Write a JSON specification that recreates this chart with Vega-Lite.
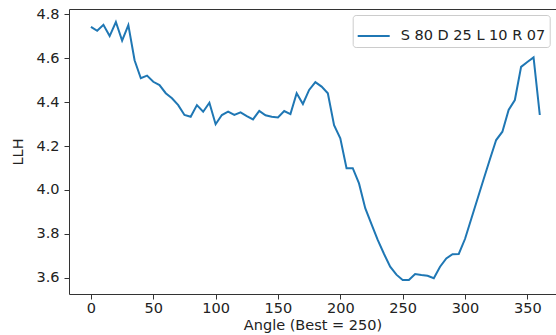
{
  "$schema": "https://vega.github.io/schema/vega-lite/v6.json",
  "width": 487,
  "height": 285,
  "autosize": {"type": "none"},
  "padding": {"left": 69, "top": 9, "right": 0, "bottom": 41},
  "background": "white",
  "config": {
    "view": {"stroke": null},
    "font": "DejaVu Sans",
    "axis": {
      "domainColor": "#333333",
      "tickColor": "#333333",
      "labelColor": "#222222",
      "titleColor": "#222222",
      "labelFontSize": 14.5,
      "titleFontSize": 14.5,
      "titleFontWeight": "normal",
      "labelFont": "DejaVu Sans",
      "titleFont": "DejaVu Sans",
      "grid": false,
      "tickSize": 5,
      "domainWidth": 1,
      "tickWidth": 1
    }
  },
  "data": {
    "values": [
      {"angle": 0, "llh": 4.742, "series": "S 80 D 25 L 10 R 07"},
      {"angle": 5, "llh": 4.724, "series": "S 80 D 25 L 10 R 07"},
      {"angle": 10, "llh": 4.751, "series": "S 80 D 25 L 10 R 07"},
      {"angle": 15, "llh": 4.700, "series": "S 80 D 25 L 10 R 07"},
      {"angle": 20, "llh": 4.764, "series": "S 80 D 25 L 10 R 07"},
      {"angle": 25, "llh": 4.679, "series": "S 80 D 25 L 10 R 07"},
      {"angle": 30, "llh": 4.750, "series": "S 80 D 25 L 10 R 07"},
      {"angle": 35, "llh": 4.590, "series": "S 80 D 25 L 10 R 07"},
      {"angle": 40, "llh": 4.508, "series": "S 80 D 25 L 10 R 07"},
      {"angle": 45, "llh": 4.520, "series": "S 80 D 25 L 10 R 07"},
      {"angle": 50, "llh": 4.492, "series": "S 80 D 25 L 10 R 07"},
      {"angle": 55, "llh": 4.477, "series": "S 80 D 25 L 10 R 07"},
      {"angle": 60, "llh": 4.440, "series": "S 80 D 25 L 10 R 07"},
      {"angle": 65, "llh": 4.417, "series": "S 80 D 25 L 10 R 07"},
      {"angle": 70, "llh": 4.386, "series": "S 80 D 25 L 10 R 07"},
      {"angle": 75, "llh": 4.341, "series": "S 80 D 25 L 10 R 07"},
      {"angle": 80, "llh": 4.333, "series": "S 80 D 25 L 10 R 07"},
      {"angle": 85, "llh": 4.386, "series": "S 80 D 25 L 10 R 07"},
      {"angle": 90, "llh": 4.356, "series": "S 80 D 25 L 10 R 07"},
      {"angle": 95, "llh": 4.397, "series": "S 80 D 25 L 10 R 07"},
      {"angle": 100, "llh": 4.299, "series": "S 80 D 25 L 10 R 07"},
      {"angle": 105, "llh": 4.341, "series": "S 80 D 25 L 10 R 07"},
      {"angle": 110, "llh": 4.356, "series": "S 80 D 25 L 10 R 07"},
      {"angle": 115, "llh": 4.341, "series": "S 80 D 25 L 10 R 07"},
      {"angle": 120, "llh": 4.353, "series": "S 80 D 25 L 10 R 07"},
      {"angle": 125, "llh": 4.336, "series": "S 80 D 25 L 10 R 07"},
      {"angle": 130, "llh": 4.321, "series": "S 80 D 25 L 10 R 07"},
      {"angle": 135, "llh": 4.360, "series": "S 80 D 25 L 10 R 07"},
      {"angle": 140, "llh": 4.340, "series": "S 80 D 25 L 10 R 07"},
      {"angle": 145, "llh": 4.333, "series": "S 80 D 25 L 10 R 07"},
      {"angle": 150, "llh": 4.330, "series": "S 80 D 25 L 10 R 07"},
      {"angle": 155, "llh": 4.359, "series": "S 80 D 25 L 10 R 07"},
      {"angle": 160, "llh": 4.345, "series": "S 80 D 25 L 10 R 07"},
      {"angle": 165, "llh": 4.440, "series": "S 80 D 25 L 10 R 07"},
      {"angle": 170, "llh": 4.391, "series": "S 80 D 25 L 10 R 07"},
      {"angle": 175, "llh": 4.455, "series": "S 80 D 25 L 10 R 07"},
      {"angle": 180, "llh": 4.490, "series": "S 80 D 25 L 10 R 07"},
      {"angle": 185, "llh": 4.470, "series": "S 80 D 25 L 10 R 07"},
      {"angle": 190, "llh": 4.440, "series": "S 80 D 25 L 10 R 07"},
      {"angle": 195, "llh": 4.295, "series": "S 80 D 25 L 10 R 07"},
      {"angle": 200, "llh": 4.235, "series": "S 80 D 25 L 10 R 07"},
      {"angle": 205, "llh": 4.099, "series": "S 80 D 25 L 10 R 07"},
      {"angle": 210, "llh": 4.099, "series": "S 80 D 25 L 10 R 07"},
      {"angle": 215, "llh": 4.030, "series": "S 80 D 25 L 10 R 07"},
      {"angle": 220, "llh": 3.917, "series": "S 80 D 25 L 10 R 07"},
      {"angle": 225, "llh": 3.845, "series": "S 80 D 25 L 10 R 07"},
      {"angle": 230, "llh": 3.773, "series": "S 80 D 25 L 10 R 07"},
      {"angle": 235, "llh": 3.710, "series": "S 80 D 25 L 10 R 07"},
      {"angle": 240, "llh": 3.651, "series": "S 80 D 25 L 10 R 07"},
      {"angle": 245, "llh": 3.615, "series": "S 80 D 25 L 10 R 07"},
      {"angle": 250, "llh": 3.591, "series": "S 80 D 25 L 10 R 07"},
      {"angle": 255, "llh": 3.591, "series": "S 80 D 25 L 10 R 07"},
      {"angle": 260, "llh": 3.618, "series": "S 80 D 25 L 10 R 07"},
      {"angle": 265, "llh": 3.613, "series": "S 80 D 25 L 10 R 07"},
      {"angle": 270, "llh": 3.610, "series": "S 80 D 25 L 10 R 07"},
      {"angle": 275, "llh": 3.599, "series": "S 80 D 25 L 10 R 07"},
      {"angle": 280, "llh": 3.651, "series": "S 80 D 25 L 10 R 07"},
      {"angle": 285, "llh": 3.689, "series": "S 80 D 25 L 10 R 07"},
      {"angle": 290, "llh": 3.708, "series": "S 80 D 25 L 10 R 07"},
      {"angle": 295, "llh": 3.709, "series": "S 80 D 25 L 10 R 07"},
      {"angle": 300, "llh": 3.777, "series": "S 80 D 25 L 10 R 07"},
      {"angle": 305, "llh": 3.868, "series": "S 80 D 25 L 10 R 07"},
      {"angle": 310, "llh": 3.959, "series": "S 80 D 25 L 10 R 07"},
      {"angle": 315, "llh": 4.050, "series": "S 80 D 25 L 10 R 07"},
      {"angle": 320, "llh": 4.140, "series": "S 80 D 25 L 10 R 07"},
      {"angle": 325, "llh": 4.227, "series": "S 80 D 25 L 10 R 07"},
      {"angle": 330, "llh": 4.265, "series": "S 80 D 25 L 10 R 07"},
      {"angle": 335, "llh": 4.364, "series": "S 80 D 25 L 10 R 07"},
      {"angle": 340, "llh": 4.409, "series": "S 80 D 25 L 10 R 07"},
      {"angle": 345, "llh": 4.560, "series": "S 80 D 25 L 10 R 07"},
      {"angle": 350, "llh": 4.582, "series": "S 80 D 25 L 10 R 07"},
      {"angle": 355, "llh": 4.603, "series": "S 80 D 25 L 10 R 07"},
      {"angle": 360, "llh": 4.341, "series": "S 80 D 25 L 10 R 07"}
    ]
  },
  "encoding": {
    "y": {
      "field": "llh",
      "type": "quantitative",
      "scale": {"domain": [3.527, 4.823], "nice": false, "zero": false},
      "axis": {
        "values": [3.6, 3.8, 4.0, 4.2, 4.4, 4.6, 4.8],
        "format": ".1f",
        "title": "LLH",
        "labelPadding": 5,
        "titlePadding": 10
      }
    }
  },
  "layer": [
    {
      "mark": {"type": "line", "strokeWidth": 2},
      "encoding": {
        "x": {
          "field": "angle",
          "type": "quantitative",
          "scale": {"domain": [-17.6, 373], "nice": false, "zero": false},
          "axis": {
            "orient": "bottom",
            "values": [0, 50, 100, 150, 200, 250, 300, 350],
            "title": "Angle (Best = 250)",
            "labelPadding": 2,
            "titlePadding": 4,
            "labelFlush": false
          }
        },
        "color": {
          "field": "series",
          "type": "nominal",
          "scale": {"range": ["#1f77b4"]},
          "legend": {
            "orient": "none",
            "legendX": 283.7,
            "legendY": 6,
            "title": null,
            "symbolType": "stroke",
            "symbolSize": 1024,
            "symbolStrokeWidth": 2,
            "labelFontSize": 14.5,
            "labelFont": "DejaVu Sans",
            "labelColor": "#222222",
            "labelOffset": 10,
            "padding": 4,
            "strokeColor": "#cccccc",
            "fillColor": "white",
            "cornerRadius": 3
          }
        }
      }
    },
    {
      "mark": {"type": "line", "strokeOpacity": 0},
      "encoding": {
        "x": {
          "field": "angle",
          "type": "quantitative",
          "axis": {"orient": "top", "labels": false, "ticks": false, "title": null, "domain": true}
        }
      }
    }
  ],
  "resolve": {"axis": {"x": "independent"}}
}
